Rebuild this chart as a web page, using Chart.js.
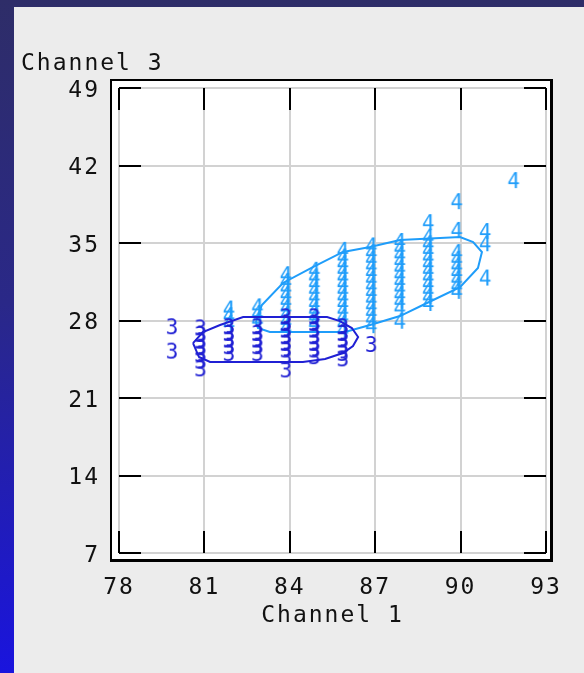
<!DOCTYPE html>
<html>
<head>
<meta charset="utf-8">
<title>Channel 1 vs Channel 3</title>
<script src="https://cdn.jsdelivr.net/npm/chart.js@4.4.1/dist/chart.umd.min.js"></script>
<style>
  html, body { margin: 0; padding: 0; }
  body {
    width: 584px;
    height: 673px;
    overflow: hidden;
    position: relative;
    background: linear-gradient(to bottom, #2e2d68 0%, #2a2888 45%, #1a14de 100%);
  }
  #panel {
    position: absolute;
    left: 14px;
    top: 7px;
    width: 570px;
    height: 666px;
    background: #ececec;
  }
  canvas { display: block; }
</style>
</head>
<body>
<div id="panel"><canvas id="scatterChart" width="570" height="666"></canvas></div>
<script>
const xTicks = [78, 81, 84, 87, 90, 93];
const yTicks = [7, 14, 21, 28, 35, 42, 49];

// class 3 samples: Channel 1 / Channel 3
const class3X = [
  80, 80,
  81, 81, 81, 81, 81, 81, 81,
  82, 82, 82, 82, 82,
  83, 83, 83, 83, 83,
  84, 84, 84, 84, 84, 84, 84, 84,
  85, 85, 85, 85, 85, 85, 85,
  86, 86, 86, 86, 86, 86,
  87
];
const class3Y = [
  27.3, 25.1,
  27.2, 26.6, 26.0, 25.4, 24.8, 24.2, 23.5,
  27.3, 26.7, 26.1, 25.5, 24.9,
  27.3, 26.7, 26.1, 25.5, 24.9,
  28.2, 27.6, 27.0, 26.4, 25.8, 25.2, 24.6, 23.4,
  28.2, 27.6, 27.0, 26.4, 25.8, 25.2, 24.6,
  27.3, 26.7, 26.1, 25.5, 24.9, 24.4,
  25.7
];

// class 4 samples: Channel 1 / Channel 3
const class4X = [
  82, 82, 82,
  83, 83, 83,
  84, 84, 84, 84, 84, 84, 84, 84, 84,
  85, 85, 85, 85, 85, 85, 85, 85, 85,
  86, 86, 86, 86, 86, 86, 86, 86, 86, 86, 86, 86, 86,
  87, 87, 87, 87, 87, 87, 87, 87, 87, 87, 87, 87, 87,
  88, 88, 88, 88, 88, 88, 88, 88, 88, 88, 88, 88,
  89, 89, 89, 89, 89, 89, 89, 89, 89, 89, 89, 89,
  90, 90, 90, 90, 90, 90, 90, 90, 90,
  91, 91, 91,
  92
];
const class4Y = [
  28.9, 28.3, 27.6,
  29.1, 28.5, 27.9,
  32.0, 31.4, 30.8, 30.2, 29.6, 29.0, 28.4, 27.8, 27.2,
  32.4, 31.8, 31.2, 30.6, 30.0, 29.4, 28.8, 28.2, 27.6,
  34.2, 33.6, 33.0, 32.4, 31.8, 31.2, 30.6, 30.0, 29.4, 28.8, 28.2, 27.6, 27.0,
  34.6, 34.0, 33.4, 32.8, 32.2, 31.6, 31.0, 30.4, 29.8, 29.2, 28.6, 28.0, 27.4,
  35.0, 34.4, 33.8, 33.2, 32.6, 32.0, 31.4, 30.8, 30.2, 29.6, 29.0, 27.8,
  36.7, 35.4, 34.8, 34.2, 33.6, 33.0, 32.4, 31.8, 31.2, 30.6, 30.0, 29.4,
  38.6, 36.0, 34.0, 33.4, 32.8, 32.2, 31.6, 31.0, 30.5,
  35.9, 34.8, 31.7,
  40.5
];

// class region outlines
const region3X = [80.60, 80.95, 81.55, 82.36, 85.31, 85.76, 86.18, 86.40, 86.22, 85.87, 85.24, 84.46, 81.20, 80.81, 80.60];
const region3Y = [25.96, 26.96, 27.59, 28.31, 28.31, 27.95, 27.32, 26.51, 25.69, 25.06, 24.52, 24.25, 24.25, 24.70, 25.96];
const region4X = [82.81, 83.02, 83.76, 84.81, 85.87, 86.82, 87.87, 89.98, 90.44, 90.75, 90.61, 89.98, 88.82, 87.87, 86.82, 85.94, 83.30, 82.88, 82.81];
const region4Y = [27.86, 29.40, 31.39, 32.83, 34.19, 34.64, 35.27, 35.54, 35.09, 34.19, 32.74, 31.02, 29.58, 28.40, 27.59, 26.96, 26.96, 27.32, 27.86];

const dark = "#2020d4";
const light = "#1f9dfa";
const fontFamily = '"DejaVu Sans Mono", "Liberation Mono", monospace';

// class number drawn as the point marker
function glyph(ch, color) {
  const c = document.createElement("canvas");
  c.width = 26;
  c.height = 26;
  const g = c.getContext("2d");
  g.font = "21px " + fontFamily;
  g.fillStyle = color;
  g.textAlign = "center";
  g.textBaseline = "middle";
  g.fillText(ch, 9, 14);
  return c;
}

function points(xs, ys) {
  return xs.map((x, i) => ({ x: x, y: ys[i] }));
}

const framePlugin = {
  id: "frame",
  beforeDraw(chart) {
    const { ctx, chartArea: a } = chart;
    ctx.letterSpacing = "2px";
    ctx.save();
    ctx.fillStyle = "#000";
    ctx.fillRect(a.left - 9, a.top - 9, a.right - a.left + 16, a.bottom - a.top + 18);
    ctx.fillStyle = "#fff";
    ctx.fillRect(a.left - 7, a.top - 7, a.right - a.left + 11, a.bottom - a.top + 13);
    ctx.fillStyle = "#111";
    ctx.font = "23px " + fontFamily;
    ctx.textAlign = "left";
    ctx.textBaseline = "alphabetic";
    ctx.fillText("Channel 3", a.left - 98, a.top - 18);
    ctx.restore();
  },
  beforeDatasetsDraw(chart) {
    const { ctx, chartArea: a, scales } = chart;
    const len = 22;
    ctx.save();
    ctx.strokeStyle = "#000";
    ctx.lineWidth = 2;
    ctx.beginPath();
    scales.x.ticks.forEach(t => {
      const px = Math.round(scales.x.getPixelForValue(t.value));
      ctx.moveTo(px, a.bottom);
      ctx.lineTo(px, a.bottom - len);
      ctx.moveTo(px, a.top);
      ctx.lineTo(px, a.top + len);
    });
    scales.y.ticks.forEach(t => {
      const py = Math.round(scales.y.getPixelForValue(t.value));
      ctx.moveTo(a.left, py);
      ctx.lineTo(a.left + len, py);
      ctx.moveTo(a.right, py);
      ctx.lineTo(a.right - len, py);
    });
    ctx.stroke();
    ctx.restore();
  }
};

const ctx = document.getElementById("scatterChart").getContext("2d");

const chart = new Chart(ctx, {
  type: "scatter",
  data: {
    datasets: [
      {
        label: "3",
        data: points(class3X, class3Y),
        pointStyle: glyph("3", dark)
      },
      {
        label: "region 3",
        data: points(region3X, region3Y),
        showLine: true,
        borderColor: dark,
        borderWidth: 2,
        pointRadius: 0,
        fill: false
      },
      {
        label: "4",
        data: points(class4X, class4Y),
        pointStyle: glyph("4", light)
      },
      {
        label: "region 4",
        data: points(region4X, region4Y),
        showLine: true,
        borderColor: light,
        borderWidth: 2,
        pointRadius: 0,
        fill: false
      }
    ]
  },
  options: {
    responsive: false,
    animation: false,
    events: [],
    layout: { padding: { top: 81, right: 38, left: 0, bottom: 0 } },
    plugins: {
      legend: { display: false },
      tooltip: { enabled: false }
    },
    scales: {
      x: {
        type: "linear",
        min: 78,
        max: 93,
        afterBuildTicks: s => { s.ticks = xTicks.map(v => ({ value: v })); },
        afterFit: s => { s.height = 120; },
        grid: { color: "#d2d2d2", lineWidth: 2, drawTicks: false },
        border: { display: false },
        ticks: {
          padding: 21,
          color: "#111",
          font: { family: fontFamily, size: 23 }
        },
        title: {
          display: true,
          text: "Channel 1",
          color: "#111",
          font: { family: fontFamily, size: 23 },
          padding: { top: 0, bottom: 43 }
        }
      },
      y: {
        type: "linear",
        min: 7,
        max: 49,
        afterBuildTicks: s => { s.ticks = yTicks.map(v => ({ value: v })); },
        afterFit: s => { s.width = 105; },
        grid: { color: "#d2d2d2", lineWidth: 2, drawTicks: false },
        border: { display: false },
        ticks: {
          padding: 19,
          labelOffset: 3,
          color: "#111",
          font: { family: fontFamily, size: 23 }
        }
      }
    }
  },
  plugins: [framePlugin]
});
</script>
</body>
</html>
